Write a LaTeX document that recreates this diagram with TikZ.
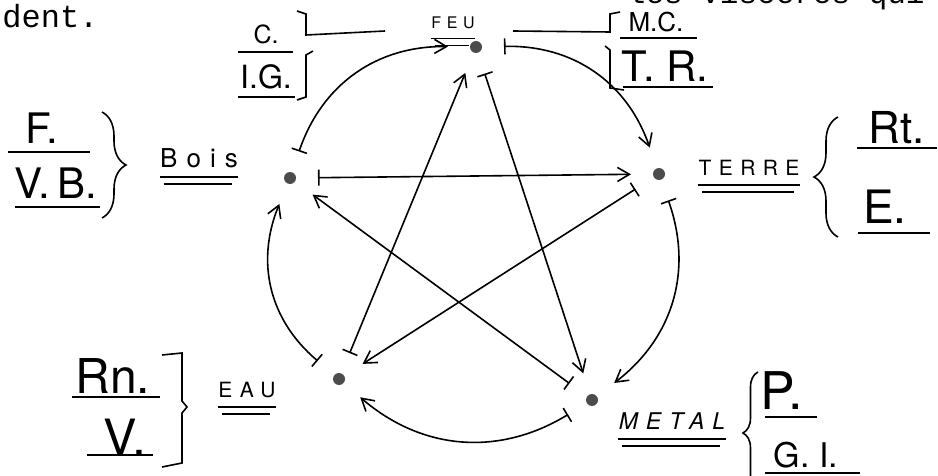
\documentclass[tikz,border=0pt]{standalone}
\usepackage{fontspec}
\setmainfont{TeX Gyre Heros}
\newfontfamily\typefont{Liberation Mono}
\newfontfamily\letterfont[LetterSpace=35]{TeX Gyre Heros}
\usetikzlibrary{arrows.meta, decorations.pathreplacing}

\tikzset{
  elem/.style={circle, fill=black!70, inner sep=0pt, minimum size=6pt, outer sep=11pt},
  link/.style={line width=0.8pt, {Bar[width=8pt]}-{Straight Barb[length=6pt,width=7pt]}},
  elemname/.style={inner sep=0pt, font=\letterfont\fontsize{10.5}{12}\selectfont},
  organ/.style={inner sep=0pt},
  fracrule/.style={line width=0.8pt},
  brace/.style={fracrule, decorate, decoration={brace, amplitude=#1}},
}
\newcommand\dblunder[1]{%
  \draw[fracrule] ([yshift=-4.5pt]#1.south west) -- ([yshift=-4.5pt]#1.south east);
  \draw[fracrule] ([yshift=-8pt,xshift=2pt]#1.south west) -- ([yshift=-8pt,xshift=-3pt]#1.south east);}

\begin{document}
\begin{tikzpicture}[x=0.5pt, y=-0.5pt]
  \useasboundingbox (0,0) rectangle (938,476);
  \clip (0,0) rectangle (938,476);

  % typed text of the page
  \node[anchor=base east, inner sep=0pt, font=\typefont\fontsize{15.5}{18}\selectfont] (prevline) at (925,4) {les viscères qui};
  \node[anchor=base west, inner sep=0pt, font=\typefont\fontsize{16}{18}\selectfont] (dent) at (2,28) {dent.};

  % the five elements
  \node[elem] (feu)   at (476,47)  {};
  \node[elem] (terre) at (659,174) {};
  \node[elem] (metal) at (592,400) {};
  \node[elem] (eau)   at (339,379) {};
  \node[elem] (bois)  at (290,178) {};

  % outer cycle
  \draw[link] (bois)  to[bend left=36] (feu);
  \draw[link] (feu)   to[bend left=36] (terre);
  \draw[link] (terre) to[bend left=36] (metal);
  \draw[link] (metal) to[bend left=36] (eau);
  \draw[link] (eau)   to[bend left=36] (bois);

  % star
  \draw[link] (bois)  -- (terre);
  \draw[link] (terre) -- (eau);
  \draw[link] (eau)   -- (feu);
  \draw[link] (feu)   -- (metal);
  \draw[link] (metal) -- (bois);

  % names
  \node[elemname, font=\letterfont\fontsize{8}{10}\selectfont] (lfeu) at (453,23) {FEU};
  \node[elemname, font=\letterfont\fontsize{13}{15}\selectfont] (lbois) at (199,158) {Bois};
  \node[elemname] (lterre) at (749,168) {TERRE};
  \node[elemname] (leau) at (247,390) {EAU};
  \node[elemname, font=\letterfont\itshape\fontsize{11.5}{13}\selectfont] (lmetal) at (672,421) {METAL};
  \dblunder{lfeu}
  \dblunder{lbois}
  \dblunder{lterre}
  \dblunder{leau}
  \dblunder{lmetal}

  % organs of fire
  \node[organ, font=\fontsize{12.5}{14}\selectfont] (c) at (266,34) {C.};
  \node[organ, font=\fontsize{16}{18}\selectfont] (ig) at (266,77) {I.G.};
  \draw[fracrule] (238,52) -- (293,52);
  \draw[fracrule] (238,97) -- (295,97);
  \draw[fracrule] (297,11) -- (306,14) -- (306,35) -- (385,31);
  \draw[fracrule] (313,51) -- (306,55) -- (306,97) -- (297,100);

  \node[organ, font=\fontsize{13}{15}\selectfont] (mc) at (656,22) {M.C.};
  \node[organ, font=\fontsize{21}{24}\selectfont] (tr) at (665,66) {T. R.};
  \draw[fracrule] (620,38) -- (697,38);
  \draw[fracrule] (623,87) -- (713,87);
  \draw[fracrule] (620,12) -- (610,14) -- (610,32) -- (513,31);
  \draw[fracrule] (605,46) -- (610,50) -- (610,88) -- (624,90);

  % organs of wood
  \node[organ, font=\fontsize{21}{24}\selectfont] (f) at (42,128) {F.};
  \node[organ, font=\fontsize{21}{24}\selectfont] (vb) at (56,183) {V.\,B.};
  \draw[fracrule] (8,152) -- (90,152);
  \draw[fracrule] (15,207) -- (100,207);
  \draw[brace=12pt] (102,112) -- (102,218);

  % organs of earth
  \node[organ, font=\fontsize{22}{25}\selectfont] (rt) at (897,128) {Rt.};
  \node[organ, font=\fontsize{23}{26}\selectfont] (e) at (885,207) {E.};
  \draw[fracrule] (857,148) -- (937,148);
  \draw[fracrule] (858,233) -- (930,233);
  \draw[brace=12pt] (838,237) -- (838,117);

  % organs of water
  \node[organ, font=\fontsize{24}{27}\selectfont] (rn) at (113,376) {Rn.};
  \node[organ, font=\fontsize{25}{28}\selectfont] (v) at (125,437) {V.};
  \draw[fracrule] (72,397) -- (160,397);
  \draw[fracrule] (87,455) -- (153,455);
  \draw[fracrule] (162,355) -- (182,353) -- (182,401) -- (187,407) -- (182,413) -- (182,463) -- (162,467);

  % organs of metal
  \node[organ, font=\fontsize{26}{29}\selectfont] (p) at (782,391) {P.};
  \node[organ, font=\fontsize{17}{20}\selectfont] (gi) at (806,455) {G.\ I.};
  \draw[fracrule] (765,417) -- (817,417);
  \draw[fracrule] (765,473) -- (860,473);
  \draw[brace=7.5pt] (758,494) -- (758,372);
\end{tikzpicture}
\end{document}
